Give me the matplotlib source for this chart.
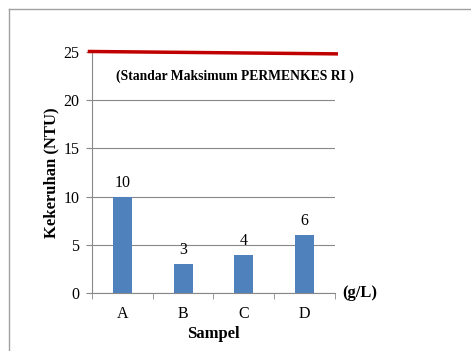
import matplotlib.pyplot as plt
import numpy as np

# data
sampel = ["A", "B", "C", "D"]
kekeruhan = [10, 3, 4, 6]
batas_x = [-0.57, 3.55]
batas_y = [25.05, 24.8]  # garis standar maksimum (sedikit miring di gambar)

plt.rcParams['font.family'] = ['Liberation Serif', 'DejaVu Serif']

fig = plt.figure(figsize=(4.71, 3.51), dpi=100)
ax = fig.add_axes([0.1953, 0.165, 0.5159, 0.687])

x = np.arange(len(sampel))
ax.bar(x, kekeruhan, width=0.31, color="#4F81BD", zorder=3)
for xi, v in zip(x, kekeruhan):
    ax.text(xi, v + 0.6, str(v), ha="center", va="bottom", fontsize=11.5)

ax.plot(batas_x, batas_y, color="#C00000", lw=2.5, clip_on=False,
        solid_capstyle="butt", zorder=4)
ax.text(1.85, 22.5, "(Standar Maksimum PERMENKES RI )", ha="center",
        va="center", fontsize=9.8, fontweight="bold")

ax.set_xlim(-0.5, 3.5)
ax.set_ylim(0, 25)
ax.set_yticks([0, 5, 10, 15, 20, 25])
ax.set_xticks(x)
ax.set_xticklabels(sampel, fontsize=11.5)
ax.set_xticks([-0.5, 0.5, 1.5, 2.5, 3.5], minor=True)
ax.tick_params(axis="x", which="major", length=0, pad=9)
ax.tick_params(axis="x", which="minor", length=4, color="#888888")
ax.tick_params(axis="y", length=4, color="#888888", labelsize=11.5, pad=5)

ax.yaxis.grid(True, color="#888888", lw=0.8, zorder=0)
for g in ax.get_ygridlines()[-1:]:
    g.set_visible(False)

for s in ["top", "right"]:
    ax.spines[s].set_visible(False)
ax.spines["left"].set_color("#888888")
ax.spines["bottom"].set_color("#888888")

ax.set_ylabel("Kekeruhan (NTU)", fontsize=12, fontweight="bold", labelpad=3)
ax.set_xlabel("Sampel", fontsize=12, fontweight="bold", labelpad=3)
ax.text(3.62, 0, "(g/L)", ha="left", va="center", fontsize=12,
        fontweight="bold", transform=ax.transData)

# bingkai
fig.add_artist(plt.Line2D([9 / 471, 9 / 471], [0, 1 - 8.5 / 351],
                          transform=fig.transFigure, color="#A0A0A0", lw=1))
fig.add_artist(plt.Line2D([9 / 471, 1], [1 - 8.5 / 351, 1 - 8.5 / 351],
                          transform=fig.transFigure, color="#A0A0A0", lw=1))

fig.savefig("out.png", dpi=100)
